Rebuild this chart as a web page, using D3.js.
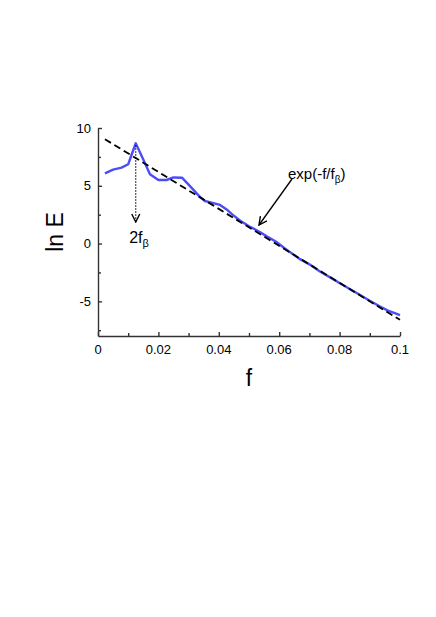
<!DOCTYPE html>
<html>
<head>
<meta charset="utf-8">
<script src="https://cdn.jsdelivr.net/npm/d3@7"></script>
<style>
  body { margin: 0; background: #fff; }
  text { font-family: "Liberation Sans", Arial, sans-serif; fill: #000; }
</style>
</head>
<body>
<svg id="chart" width="436" height="617"></svg>
<script>
// measured spectrum, ln E vs f
var freq = [0.0023, 0.005, 0.0078, 0.010, 0.011, 0.0125, 0.0153, 0.0172, 0.020, 0.0227,
            0.025, 0.0278, 0.030, 0.0316, 0.0335, 0.0354, 0.0382, 0.0404, 0.0426, 0.045,
            0.047, 0.050, 0.0536, 0.056, 0.059, 0.062, 0.065, 0.0669, 0.070, 0.0735,
            0.077, 0.0801, 0.0835, 0.0868, 0.090, 0.0934, 0.096, 0.0985, 0.100];
var lnE = [6.08, 6.4, 6.57, 6.86, 7.6, 8.68, 7.1, 6.0, 5.5, 5.5,
           5.72, 5.7, 5.1, 4.65, 4.1, 3.68, 3.5, 3.34, 2.95, 2.4,
           2.0, 1.5, 1.0, 0.6, 0.15, -0.45, -1.0, -1.35, -1.8, -2.42,
           -2.95, -3.44, -3.95, -4.45, -4.95, -5.45, -5.8, -6.05, -6.2];
// fitted exp(-f/f_beta) line, end points
var fitF = [0.0023, 0.1];
var fitV = [9.03, -6.6];

var xTicks = [0, 0.02, 0.04, 0.06, 0.08, 0.1];
var xMinor = [0.01, 0.03, 0.05, 0.07, 0.09];
var yTicks = [-5, 0, 5, 10];
var yMinor = [-7.5, -2.5, 2.5, 7.5];
var peakF = 0.0125, peakV = 8.68;

var svg = d3.select("#chart");
var x = d3.scaleLinear().domain([0, 0.1]).range([98, 400]);
var y = d3.scaleLinear().domain([-8, 10]).range([336, 128]);

svg.append("defs").append("marker")
    .attr("id", "vhead")
    .attr("viewBox", "0 0 10 10")
    .attr("refX", 9).attr("refY", 5)
    .attr("markerWidth", 10).attr("markerHeight", 10)
    .attr("markerUnits", "userSpaceOnUse")
    .attr("orient", "auto")
  .append("path")
    .attr("d", "M1,1 L9,5 L1,9")
    .attr("fill", "none")
    .attr("stroke", "#000")
    .attr("stroke-width", 1.4);

// axes, ticks pointing inward
svg.append("g").attr("transform", "translate(0,336)")
    .call(d3.axisTop(x).tickValues(xTicks).tickSize(4).tickSizeOuter(0).tickFormat(""));
svg.append("g").attr("transform", "translate(0,336)")
    .call(d3.axisTop(x).tickValues(xMinor).tickSize(3).tickFormat(""))
    .select(".domain").remove();
svg.append("g").attr("transform", "translate(98,0)")
    .call(d3.axisRight(y).tickValues(yTicks).tickSize(4).tickSizeOuter(0).tickFormat(""));
svg.append("g").attr("transform", "translate(98,0)")
    .call(d3.axisRight(y).tickValues(yMinor).tickSize(3).tickFormat(""))
    .select(".domain").remove();
svg.selectAll(".domain, .tick line").attr("stroke", "#333").attr("stroke-width", 1.4);

svg.append("g").selectAll("text")
    .data(xTicks).enter().append("text")
    .attr("x", function(d) { return x(d); })
    .attr("y", 354)
    .attr("text-anchor", "middle")
    .style("font-size", "13px")
    .text(function(d) { return d === 0 ? "0" : d3.format("")(d); });

svg.append("g").selectAll("text")
    .data(yTicks).enter().append("text")
    .attr("x", 91)
    .attr("y", function(d) { return y(d); })
    .attr("dy", "0.35em")
    .attr("text-anchor", "end")
    .style("font-size", "13px")
    .text(function(d) { return d; });

svg.append("text")
    .attr("x", 249).attr("y", 386)
    .attr("text-anchor", "middle")
    .style("font-size", "23px")
    .text("f");

svg.append("text")
    .attr("transform", "translate(63,232) rotate(-90)")
    .attr("text-anchor", "middle")
    .style("font-size", "23px")
    .text("ln E");

// data curve
var line = d3.line()
    .x(function(d, i) { return x(freq[i]); })
    .y(function(d) { return y(d); });
svg.append("path")
    .datum(lnE)
    .attr("d", line)
    .attr("fill", "none")
    .attr("stroke", "#4d4df5")
    .attr("stroke-width", 2.4)
    .attr("stroke-linejoin", "round");

// fit line on top
svg.append("line")
    .attr("x1", x(fitF[0])).attr("y1", y(fitV[0]))
    .attr("x2", x(fitF[1])).attr("y2", y(fitV[1]))
    .attr("stroke", "#000")
    .attr("stroke-width", 1.8)
    .attr("stroke-dasharray", "7,4");

// dotted arrow from peak
svg.append("line")
    .attr("x1", x(peakF)).attr("y1", y(peakV) + 2)
    .attr("x2", x(peakF)).attr("y2", 222)
    .attr("stroke", "#000")
    .attr("stroke-width", 1.1)
    .attr("stroke-dasharray", "1.5,1.5")
    .attr("marker-end", "url(#vhead)");

var lab1 = svg.append("text")
    .attr("x", 139).attr("y", 243)
    .attr("text-anchor", "middle")
    .style("font-size", "16px");
lab1.append("tspan").text("2f");
lab1.append("tspan").attr("dy", 4).style("font-size", "11px").text("β");

// arrow to fit line
svg.append("line")
    .attr("x1", 292).attr("y1", 179)
    .attr("x2", 259).attr("y2", 225)
    .attr("stroke", "#000")
    .attr("stroke-width", 1.3)
    .attr("marker-end", "url(#vhead)");

var lab2 = svg.append("text")
    .attr("x", 288).attr("y", 179)
    .style("font-size", "15px");
lab2.append("tspan").text("exp(-f/f");
lab2.append("tspan").attr("dy", 4).style("font-size", "10px").text("β");
lab2.append("tspan").attr("dy", -4).text(")");
</script>
</body>
</html>
